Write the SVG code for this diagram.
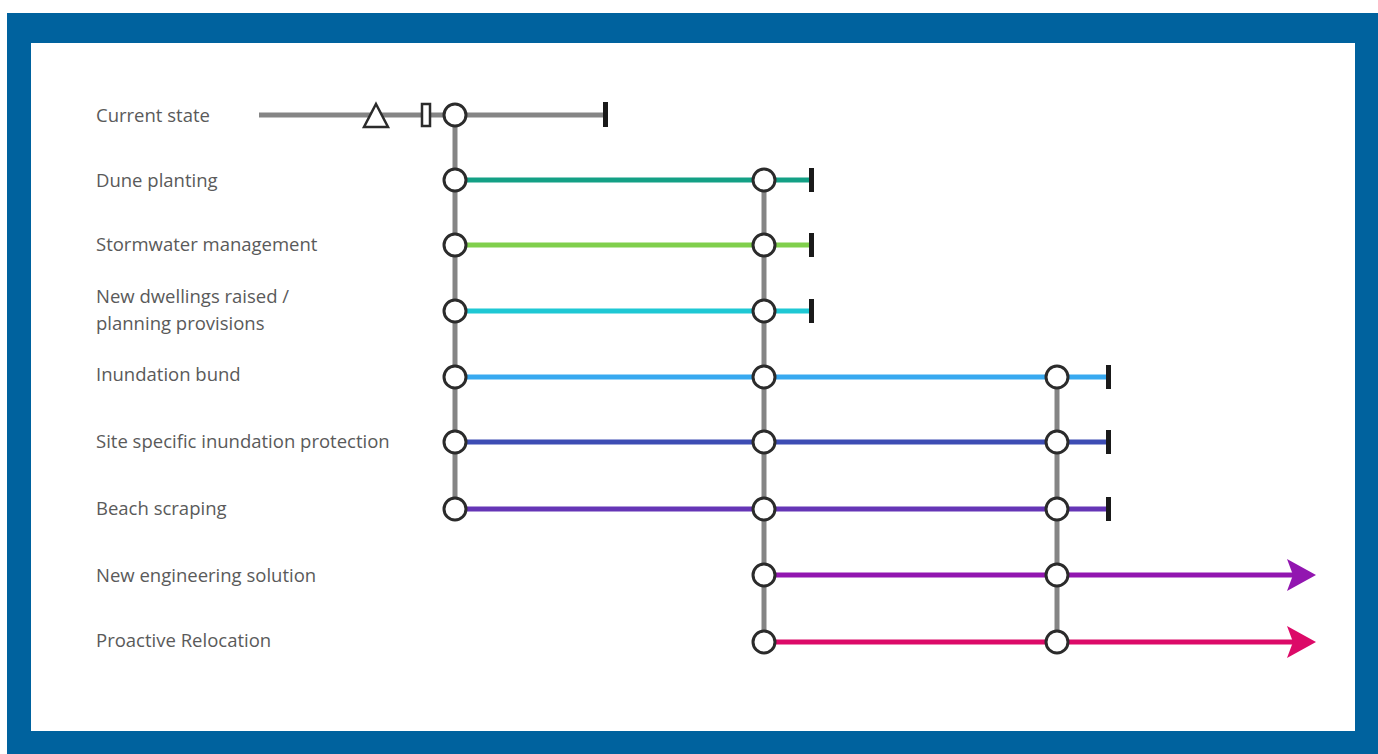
<svg xmlns="http://www.w3.org/2000/svg" width="1378" height="754" viewBox="0 0 1378 754">
<style>
.lbl{font-family:"Open Sans","Liberation Sans",sans-serif;font-size:18.5px;fill:#5a5a5a}
.ln{stroke-width:5;fill:none}
.gr{stroke:#858585;stroke-width:5;fill:none}
.nd{fill:#ffffff;stroke:#2b2b2b;stroke-width:3}
.bar{fill:#1a1a1a}
</style>
<rect x="0" y="0" width="1378" height="754" fill="#ffffff"/>
<rect x="7" y="13" width="1371" height="741" fill="#00629e"/>
<rect x="31" y="43" width="1324" height="688" fill="#ffffff"/>

<g id="labels">
<text class="lbl" x="96" y="122">Current state</text>
<text class="lbl" x="96" y="187">Dune planting</text>
<text class="lbl" x="96" y="251">Stormwater management</text>
<text class="lbl" x="96" y="303">New dwellings raised /</text>
<text class="lbl" x="96" y="330">planning provisions</text>
<text class="lbl" x="96" y="381">Inundation bund</text>
<text class="lbl" x="96" y="448">Site specific inundation protection</text>
<text class="lbl" x="96" y="515">Beach scraping</text>
<text class="lbl" x="96" y="582">New engineering solution</text>
<text class="lbl" x="96" y="647">Proactive Relocation</text>
</g>

<g id="connectors">
<line class="gr" x1="259" y1="115" x2="605" y2="115"/>
<line class="ln" stroke="#13a085" x1="455" y1="180" x2="810" y2="180"/>
<line class="ln" stroke="#80cf4c" x1="455" y1="245" x2="810" y2="245"/>
<line class="ln" stroke="#1ec8d4" x1="455" y1="311" x2="810" y2="311"/>
<line class="ln" stroke="#38a9f0" x1="455" y1="377" x2="1107" y2="377"/>
<line class="ln" stroke="#3d4db4" x1="455" y1="442" x2="1107" y2="442"/>
<line class="ln" stroke="#6535b6" x1="455" y1="509" x2="1107" y2="509"/>
<line class="ln" stroke="#9216b0" x1="764" y1="575" x2="1295" y2="575"/>
<line class="ln" stroke="#dc0a68" x1="764" y1="642" x2="1295" y2="642"/>
<path fill="#9216b0" d="M1287,559 L1316,575 L1287,591 L1293,575 Z"/>
<path fill="#dc0a68" d="M1287,626 L1316,642 L1287,658 L1293,642 Z"/>
<line class="gr" x1="455" y1="115" x2="455" y2="509"/>
<line class="gr" x1="764" y1="180" x2="764" y2="642"/>
<line class="gr" x1="1057" y1="377" x2="1057" y2="642"/>
</g>

<g id="end-bars">
<rect class="bar" x="603" y="102" width="5" height="25"/>
<rect class="bar" x="809" y="168" width="5" height="24"/>
<rect class="bar" x="809" y="233" width="5" height="24"/>
<rect class="bar" x="809" y="299" width="5" height="24"/>
<rect class="bar" x="1106" y="365" width="5" height="24"/>
<rect class="bar" x="1106" y="430" width="5" height="24"/>
<rect class="bar" x="1106" y="497" width="5" height="24"/>
</g>

<g id="current-markers">
<polygon points="376,104 388,127 364,127" fill="#ffffff" stroke="#2b2b2b" stroke-width="2.5"/>
<rect x="422" y="104" width="8" height="22" fill="#ffffff" stroke="#2b2b2b" stroke-width="2.5"/>
</g>

<g id="nodes">
<circle id="n-cur" class="nd" cx="455" cy="115" r="11"/>
<circle id="n-dune-1" class="nd" cx="455" cy="180" r="11"/>
<circle id="n-storm-1" class="nd" cx="455" cy="245" r="11"/>
<circle id="n-dwell-1" class="nd" cx="455" cy="311" r="11"/>
<circle id="n-bund-1" class="nd" cx="455" cy="377" r="11"/>
<circle id="n-site-1" class="nd" cx="455" cy="442" r="11"/>
<circle id="n-beach-1" class="nd" cx="455" cy="509" r="11"/>
<circle id="n-dune-2" class="nd" cx="764" cy="180" r="11"/>
<circle id="n-storm-2" class="nd" cx="764" cy="245" r="11"/>
<circle id="n-dwell-2" class="nd" cx="764" cy="311" r="11"/>
<circle id="n-bund-2" class="nd" cx="764" cy="377" r="11"/>
<circle id="n-site-2" class="nd" cx="764" cy="442" r="11"/>
<circle id="n-beach-2" class="nd" cx="764" cy="509" r="11"/>
<circle id="n-eng-2" class="nd" cx="764" cy="575" r="11"/>
<circle id="n-reloc-2" class="nd" cx="764" cy="642" r="11"/>
<circle id="n-bund-3" class="nd" cx="1057" cy="377" r="11"/>
<circle id="n-site-3" class="nd" cx="1057" cy="442" r="11"/>
<circle id="n-beach-3" class="nd" cx="1057" cy="509" r="11"/>
<circle id="n-eng-3" class="nd" cx="1057" cy="575" r="11"/>
<circle id="n-reloc-3" class="nd" cx="1057" cy="642" r="11"/>
</g>
</svg>
